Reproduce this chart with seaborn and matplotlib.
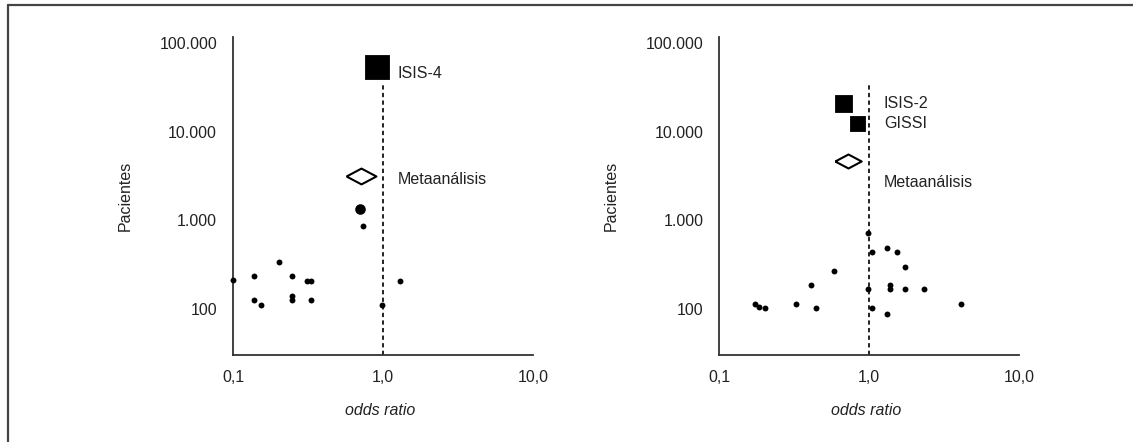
import numpy as np
import pandas as pd
import matplotlib
matplotlib.use("Agg")
import matplotlib.pyplot as plt
from matplotlib.lines import Line2D
import seaborn as sns

# ---------------- data ----------------
# Left panel (nitrates / ISIS-4)
left_small_or = [0.10, 0.139, 0.204, 0.247, 0.31, 0.33, 0.139, 0.154, 0.247, 0.247, 0.33, 0.98, 1.30, 0.74]
left_small_n = [209, 232, 339, 232, 207, 207, 127, 109, 139, 126, 127, 109, 207, 862]
left_bigdot_or = [0.70]
left_bigdot_n = [1330]
left_trial_or = [0.91]
left_trial_n = [53200]
left_trial_names = ["ISIS-4"]
left_meta_or = [0.71]
left_meta_n = [3200]

# Right panel (streptokinase / ISIS-2, GISSI)
right_small_or = [0.975, 1.04, 1.31, 1.52, 1.73, 0.58, 0.41, 0.975, 1.38, 1.38, 1.73, 2.31,
                  0.173, 0.184, 0.202, 0.326, 0.44, 1.04, 1.31, 4.1]
right_small_n = [708, 436, 483, 436, 295, 270, 183, 168, 186, 165, 168, 168,
                 114, 104, 103, 113, 103, 103, 87, 113]
right_trial_or = [0.67, 0.84]
right_trial_n = [20700, 12500]
right_trial_names = ["ISIS-2", "GISSI"]
right_meta_or = [0.72]
right_meta_n = [4620]

# label texts and anchor values
left_labels = ["ISIS-4", "Metaanálisis"]
left_label_y = [45300, 2890]
right_labels = ["ISIS-2", "GISSI", "Metaanálisis"]
right_label_y = [20800, 12400, 2675]
label_x = 1.25

y_ticks = [100, 1000, 10000, 100000]
y_ticklabels = ["100", "1.000", "10.000", "100.000"]
x_ticks = [0.1, 1.0, 10.0]
x_ticklabels = ["0,1", "1,0", "10,0"]

# ---------------- style ----------------
sns.set_theme(style="white")
plt.rcParams["font.family"] = ["Liberation Sans", "DejaVu Sans"]

W, H = 1133, 442
fig = plt.figure(figsize=(W / 100, H / 100), dpi=100)
fig.patch.set_facecolor("white")

ax_w = 300 / W
ax_h = 318 / H
ax_b = (H - 355) / H
axL = fig.add_axes([233 / W, ax_b, ax_w, ax_h])
axR = fig.add_axes([719.3 / W, ax_b, ax_w, ax_h])

diamond = [(-1, 0), (0, 0.53), (1, 0), (0, -0.53), (-1, 0)]
FS = 11.5


def setup(ax):
    ax.set_xscale("log")
    ax.set_yscale("log")
    ax.set_xlim(0.1, 10)
    ax.set_ylim(30, 10 ** 5.07)
    ax.vlines(1.0, 30, 35000, colors="#222222", linewidth=1.4,
              linestyles=(0, (2.2, 1.7)), zorder=1)


def finish(ax):
    for s in ["top", "right"]:
        ax.spines[s].set_visible(False)
    for s in ["left", "bottom"]:
        ax.spines[s].set_color("#333333")
        ax.spines[s].set_linewidth(1.3)
    ax.set_xticks(x_ticks)
    ax.set_xticklabels(x_ticklabels)
    ax.set_yticks(y_ticks)
    ax.set_yticklabels(y_ticklabels)
    ax.minorticks_off()
    ax.tick_params(axis="x", direction="in", length=4, width=1.3, color="#333333",
                   pad=11, labelsize=FS, labelcolor="#222222")
    ax.tick_params(axis="y", length=0, pad=11.5, labelsize=FS, labelcolor="#222222")
    ax.set_xlabel("odds ratio", fontsize=FS, style="italic", color="#222222")
    ax.set_ylabel("Pacientes", fontsize=FS, color="#222222")
    ax.xaxis.set_label_coords(0.49, -0.15)
    ax.yaxis.set_label_coords(-0.335, 0.5)
    ax.set_facecolor("white")


# left panel
setup(axL)
sns.scatterplot(x=left_small_or, y=left_small_n, ax=axL, color="black", s=18,
                edgecolor="black", linewidth=0, zorder=3, clip_on=False)
sns.scatterplot(x=left_bigdot_or, y=left_bigdot_n, ax=axL, color="black", s=58,
                edgecolor="black", linewidth=0, zorder=3)
sns.scatterplot(x=left_trial_or, y=left_trial_n, ax=axL, color="black", marker="s",
                s=300, edgecolor="black", linewidth=0.6, zorder=3)
sns.scatterplot(x=left_meta_or, y=left_meta_n, ax=axL, color="white", marker=diamond,
                s=21.5 ** 2, edgecolor="black", linewidth=1.5, zorder=3)
for t, yv in zip(left_labels, left_label_y):
    axL.text(label_x, yv, t, ha="left", va="center", fontsize=FS, color="#222222")
finish(axL)

# right panel
setup(axR)
sns.scatterplot(x=right_small_or, y=right_small_n, ax=axR, color="black", s=18,
                edgecolor="black", linewidth=0, zorder=3)
sns.scatterplot(x=right_trial_or, y=right_trial_n, ax=axR, color="black", marker="s",
                s=[150, 115], edgecolor="black", linewidth=0.6, zorder=3)
sns.scatterplot(x=right_meta_or, y=right_meta_n, ax=axR, color="white", marker=diamond,
                s=19 ** 2, edgecolor="black", linewidth=1.5, zorder=3)
for t, yv in zip(right_labels, right_label_y):
    axR.text(label_x, yv, t, ha="left", va="center", fontsize=FS, color="#222222")
finish(axR)

# outer frame (top and left only)
x0 = 8 / W
y0 = 1 - 5 / H
fig.add_artist(Line2D([x0, 1], [y0, y0], transform=fig.transFigure, color="#444444", linewidth=1.6))
fig.add_artist(Line2D([x0, x0], [0, y0], transform=fig.transFigure, color="#444444", linewidth=1.6))

fig.savefig("out.png", dpi=100, facecolor="white")
